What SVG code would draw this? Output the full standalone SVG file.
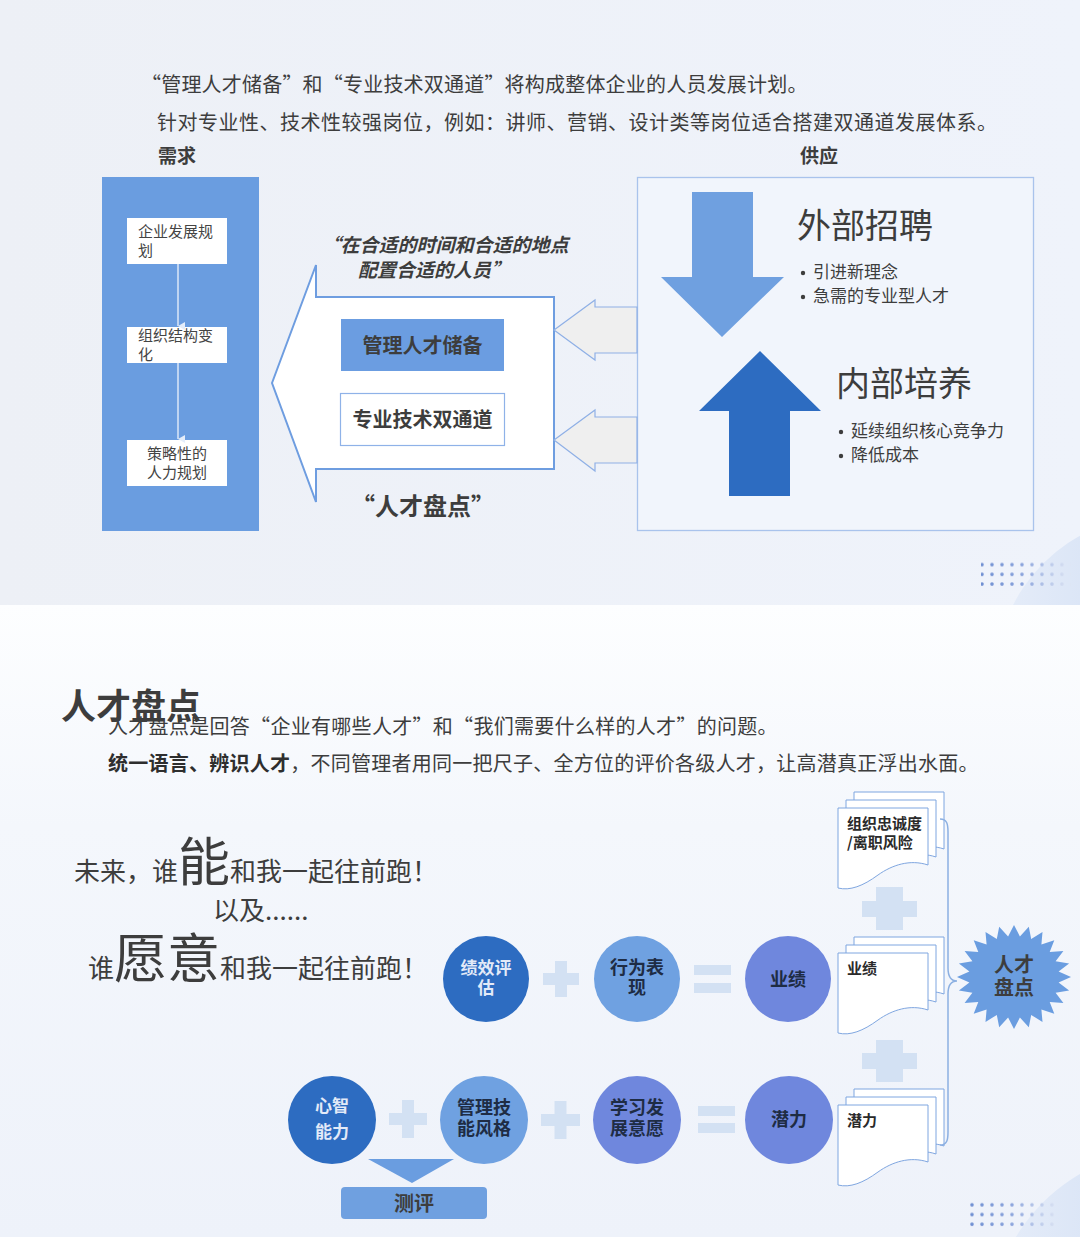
<svg xmlns="http://www.w3.org/2000/svg" width="1080" height="1237" viewBox="0 0 1080 1237">
<defs>
<linearGradient id="bgTop" x1="0" y1="0" x2="1" y2="0">
<stop offset="0" stop-color="#edf0f6"/><stop offset="1" stop-color="#eff3fb"/>
</linearGradient>
<linearGradient id="bgBot" x1="0" y1="0" x2="0" y2="1">
<stop offset="0" stop-color="#fdfeff"/><stop offset="0.35" stop-color="#f4f7fc"/><stop offset="1" stop-color="#eef2fa"/>
</linearGradient>
<linearGradient id="blob" x1="0" y1="0" x2="1" y2="0">
<stop offset="0" stop-color="#e6edf9"/><stop offset="1" stop-color="#bfd2f0"/>
</linearGradient>
<linearGradient id="dots" x1="0" y1="0" x2="1" y2="0">
<stop offset="0" stop-color="#6f8fd2"/><stop offset="0.45" stop-color="#8aa3dc"/><stop offset="1" stop-color="#dfe6f4"/>
</linearGradient>
<clipPath id="clipTop"><rect x="0" y="0" width="1080" height="605"/></clipPath>
<clipPath id="clipBot"><rect x="0" y="605" width="1080" height="632"/></clipPath>
<marker id="ah" viewBox="0 0 8 8" refX="4" refY="7" markerWidth="8" markerHeight="8" markerUnits="userSpaceOnUse" orient="auto-start-reverse">
<path d="M0,0 L8,0 L4,7 Z" fill="#e4edfa"/>
</marker>
<path id="doc" d="M0,0 H90 V57 C72,51 54,57 40,67 C25,78 12,83 0,80 Z"/>
<pattern id="dotpat" x="0" y="0" width="10" height="9.7" patternUnits="userSpaceOnUse">
<circle cx="2" cy="2" r="1.8" fill="#ffffff"/>
</pattern>
<mask id="dotMaskTop"><rect x="981" y="560" width="90" height="30" fill="url(#dotpat)"/></mask>
<mask id="dotMaskBot"><rect x="969.5" y="1198" width="90" height="30" fill="url(#dotpat)"/></mask>
</defs>
<style>
text{font-family:"Noto Sans CJK SC","Noto Sans",sans-serif;fill:#3d3d3d}
.b{font-weight:bold}
.body{font-size:20px}
.box{fill:#ffffff}
.lbl{font-size:15px;fill:#444}
.plus{fill:#d3e1f3}
.docs use{fill:#ffffff;stroke:#7fa6e0;stroke-width:1}
.dark{fill:#2d6cc1}
.mid{fill:#6fa1e1}
.peri{fill:#6f87dd}
.ctl{font-size:18px;font-weight:bold;text-anchor:middle;fill:#1e2c44}
.ctw{font-size:17px;font-weight:bold;text-anchor:middle;fill:#e3eaf8}
.doct{font-size:15px;font-weight:bold;fill:#2a2a2a}
.bul{fill:#3d3d3d}
</style>

<!-- backgrounds -->
<rect x="0" y="0" width="1080" height="605" fill="url(#bgTop)"/>
<rect x="0" y="605" width="1080" height="632" fill="url(#bgBot)"/>
<circle cx="1160" cy="680" r="165" fill="url(#blob)" clip-path="url(#clipTop)"/>
<circle cx="1170" cy="1330" r="180" fill="url(#blob)" clip-path="url(#clipBot)"/>
<rect x="981" y="560" width="90" height="30" fill="url(#dots)" mask="url(#dotMaskTop)"/>
<rect x="969.5" y="1198" width="90" height="30" fill="url(#dots)" mask="url(#dotMaskBot)"/>

<!-- top slide texts -->
<g id="intro-top">
<text class="body" x="141" y="92" letter-spacing="0.2">“管理人才储备”和“专业技术双通道”将构成整体企业的人员发展计划。</text>
<text class="body" x="157" y="130" letter-spacing="0.5">针对专业性、技术性较强岗位，例如：讲师、营销、设计类等岗位适合搭建双通道发展体系。</text>
<text class="b" x="158" y="163" font-size="19" fill="#2e2e2e">需求</text>
<text class="b" x="800" y="163" font-size="19" fill="#2e2e2e">供应</text>
</g>

<!-- demand column -->
<g id="demand">
<rect x="102" y="177" width="157" height="354" fill="#6a9de0"/>
</g>
<g id="node-plan">
<rect class="box" x="127" y="218" width="100" height="46"/>
<text class="lbl" x="138" y="237">企业发展规</text>
<text class="lbl" x="138" y="256">划</text>
</g>
<g id="node-org">
<rect class="box" x="127" y="327" width="100" height="36"/>
<text class="lbl" x="138" y="341">组织结构变</text>
<text class="lbl" x="138" y="360">化</text>
</g>
<g id="node-hr">
<rect class="box" x="127" y="440" width="100" height="46"/>
<text class="lbl" x="177" y="459" text-anchor="middle">策略性的</text>
<text class="lbl" x="177" y="478" text-anchor="middle">人力规划</text>
</g>

<!-- big arrow -->
<g id="talent-review">
<path d="M272,383 L316,265 L316,297 L554,297 L554,469 L316,469 L316,502 Z" fill="#ffffff" stroke="#6e9de0" stroke-width="2" stroke-linejoin="miter"/>
<text class="b" x="445" y="252" font-size="19" font-style="italic" text-anchor="middle" fill="#333">“在合适的时间和合适的地点</text>
<text class="b" x="434" y="277" font-size="19" font-style="italic" text-anchor="middle" fill="#333">配置合适的人员”</text>
<text class="b" x="423" y="515" font-size="24" text-anchor="middle" fill="#2a2a2a">“人才盘点”</text>
</g>
<g id="node-mgmt">
<rect x="341" y="319" width="163" height="52" fill="#6b9de1"/>
<text class="b" x="422.5" y="353" font-size="20" text-anchor="middle" fill="#2c2c2c">管理人才储备</text>
</g>
<g id="node-tech">
<rect x="340.5" y="393.5" width="164" height="52" fill="#ffffff" stroke="#8fb2e8" stroke-width="1.2"/>
<text class="b" x="422.5" y="427" font-size="20" text-anchor="middle" fill="#2c2c2c">专业技术双通道</text>
</g>

<!-- supply box -->
<g id="supply">
<rect x="637.5" y="177.5" width="396" height="353" fill="#f1f5fc" stroke="#a9c3ec" stroke-width="1.3"/>
<path d="M692,192 H753 V277 H784 L722,337 L661,277 H692 Z" fill="#6fa0e0"/>
<path d="M760,351 L821,411 H790 V496 H729 V411 H699 Z" fill="#2d6cc1"/>
</g>
<g id="node-external">
<text x="797" y="238" font-size="34" fill="#333">外部招聘</text>
<circle class="bul" cx="803" cy="273" r="2.2"/>
<text x="813" y="278" font-size="17" fill="#3d3d3d">引进新理念</text>
<circle class="bul" cx="803" cy="297" r="2.2"/>
<text x="813" y="302" font-size="17" fill="#3d3d3d">急需的专业型人才</text>
</g>
<g id="node-internal">
<text x="836" y="396" font-size="34" fill="#333">内部培养</text>
<circle class="bul" cx="841" cy="432" r="2.2"/>
<text x="851" y="437" font-size="17" fill="#3d3d3d">延续组织核心竞争力</text>
<circle class="bul" cx="841" cy="456" r="2.2"/>
<text x="851" y="461" font-size="17" fill="#3d3d3d">降低成本</text>
</g>

<!-- slide 2 texts -->
<g id="intro-bottom">
<text class="body" x="108" y="734" letter-spacing="0.3">人才盘点是回答“企业有哪些人才”和“我们需要什么样的人才”的问题。</text>
<text class="body" x="108" y="771" letter-spacing="0.25"><tspan class="b" fill="#2e2e2e">统一语言、辨识人才</tspan>，不同管理者用同一把尺子、全方位的评价各级人才，让高潜真正浮出水面。</text>
<text class="b" x="61" y="719" font-size="35" fill="#1c2e4e">人才盘点</text>
</g>
<g id="slogan">
<text x="74" y="881" font-size="26" fill="#3a3a3a">未来，谁<tspan font-size="52">能</tspan>和我一起往前跑！</text>
<text x="213" y="920" font-size="26" fill="#3a3a3a">以及......</text>
<text x="88" y="978" font-size="26" fill="#3a3a3a">谁<tspan font-size="53">愿意</tspan>和我一起往前跑！</text>
</g>

<!-- row 1 -->
<g id="node-perf-eval">
<circle class="dark" cx="486" cy="979" r="43"/>
<text class="ctw" x="486" y="974" font-size="18">绩效评</text>
<text class="ctw" x="486" y="994" font-size="18">估</text>
</g>
<g id="op-plus-1" class="plus">
<rect x="543" y="973" width="36" height="12"/><rect x="555" y="961" width="12" height="36"/>
</g>
<g id="node-behavior">
<circle class="mid" cx="637" cy="979" r="43"/>
<text class="ctl" x="637" y="974">行为表</text>
<text class="ctl" x="637" y="994">现</text>
</g>
<g id="op-eq-1" class="plus">
<rect x="694" y="965" width="37" height="10"/><rect x="694" y="983" width="37" height="10"/>
</g>
<g id="node-performance">
<circle class="peri" cx="788" cy="979" r="43"/>
<text class="ctl" x="788" y="986">业绩</text>
</g>

<!-- row 2 -->
<g id="node-mind">
<circle class="dark" cx="332" cy="1120" r="44"/>
<text class="ctw" x="332" y="1112" font-size="16">心智</text>
<text class="ctw" x="332" y="1138" font-size="16">能力</text>
</g>
<g id="op-plus-2" class="plus">
<rect x="389" y="1113" width="38" height="12"/><rect x="402" y="1100" width="12" height="38"/>
</g>
<g id="node-skill">
<circle class="mid" cx="484" cy="1120" r="44"/>
<text class="ctl" x="484" y="1114" font-size="14.5">管理技</text>
<text class="ctl" x="484" y="1135" font-size="14.5">能风格</text>
</g>
<g id="op-plus-3" class="plus">
<rect x="541" y="1114" width="39" height="12"/><rect x="554.5" y="1101" width="12" height="38"/>
</g>
<g id="node-will">
<circle class="peri" cx="637" cy="1120" r="44"/>
<text class="ctl" x="637" y="1114" font-size="14.5">学习发</text>
<text class="ctl" x="637" y="1135" font-size="14.5">展意愿</text>
</g>
<g id="op-eq-2" class="plus">
<rect x="698" y="1106" width="37" height="10"/><rect x="698" y="1123" width="37" height="10"/>
</g>
<g id="node-potential">
<circle class="peri" cx="789" cy="1120" r="44"/>
<text class="ctl" x="789" y="1126" font-size="17">潜力</text>
</g>
<g id="node-assess">
<path d="M368,1159 L454,1159 L412,1183 Z" fill="#6a9de0"/>
<rect x="341" y="1187" width="146" height="32" rx="4" fill="#6fa0e0"/>
<text class="b" x="414" y="1211" font-size="20" text-anchor="middle" fill="#2a2a2a">测评</text>
</g>

<!-- document stacks -->
<g id="doc-loyalty" class="docs">
<use href="#doc" x="854" y="792"/><use href="#doc" x="846" y="800"/><use href="#doc" x="838" y="808"/>
<text class="doct" x="847" y="829">组织忠诚度</text>
<text class="doct" x="847" y="848">/离职风险</text>
</g>
<g id="op-plus-4" class="plus">
<rect x="862" y="901" width="55" height="16"/><rect x="876" y="887" width="27" height="43"/>
</g>
<g id="doc-performance" class="docs">
<use href="#doc" x="854" y="937"/><use href="#doc" x="846" y="945"/><use href="#doc" x="838" y="953"/>
<text class="doct" x="847" y="974">业绩</text>
</g>
<g id="op-plus-5" class="plus">
<rect x="862" y="1053" width="55" height="16"/><rect x="876" y="1040" width="27" height="42"/>
</g>
<g id="doc-potential" class="docs">
<use href="#doc" x="854" y="1089"/><use href="#doc" x="846" y="1097"/><use href="#doc" x="838" y="1105"/>
<text class="doct" x="847" y="1126">潜力</text>
</g>

<!-- star -->
<g id="node-talent-star">
<polygon fill="#6a9de0" points="1071,977 1058.6,982.4 1069.1,990.5 1055.6,992.7 1063.4,1003 1049.7,1002 1054.3,1013.8 1041.4,1009.5 1042.5,1022 1031.2,1014.9 1028.8,1027.2 1019.9,1017.6 1014,1029 1008.1,1017.6 999.2,1027.2 996.8,1014.9 985.5,1022 986.6,1009.5 973.7,1013.8 978.3,1002 964.6,1003 972.4,992.7 958.9,990.5 969.4,982.4 957,977 969.4,971.6 958.9,963.5 972.4,961.3 964.6,951 978.3,952 973.7,940.2 986.6,944.5 985.5,932 996.8,939.1 999.2,926.8 1008.1,936.4 1014,925 1019.9,936.4 1028.8,926.8 1031.2,939.1 1042.5,932 1041.4,944.5 1054.3,940.2 1049.7,952 1063.4,951 1055.6,961.3 1069.1,963.5 1058.6,971.6"/>
<text class="b" x="1014" y="972" font-size="20" text-anchor="middle" fill="#1e2c44">人才</text>
<text class="b" x="1014" y="995" font-size="20" text-anchor="middle" fill="#1e2c44">盘点</text>
</g>

<!-- connectors -->
<g id="connectors" fill="none">
<line x1="178" y1="264" x2="178" y2="326" stroke="#e4edfa" stroke-width="1.4" marker-end="url(#ah)"/>
<line x1="178" y1="363" x2="178" y2="439" stroke="#e4edfa" stroke-width="1.4" marker-end="url(#ah)"/>
<path d="M554,330 L595,300 L595,307 L637,307 L637,353 L595,353 L595,360 Z" fill="#efefef" stroke="#8fb0e6" stroke-width="1.2"/>
<path d="M554,440 L595,410 L595,417 L637,417 L637,463 L595,463 L595,471 Z" fill="#efefef" stroke="#8fb0e6" stroke-width="1.2"/>
<path d="M940,819 C947,819 948,824 948,832 V968 C948,976 951,981 957,981 C951,981 948,986 948,994 V1132 C948,1140 947,1145 940,1145" stroke="#8cb0e2" stroke-width="1.5"/>
</g>
</svg>
